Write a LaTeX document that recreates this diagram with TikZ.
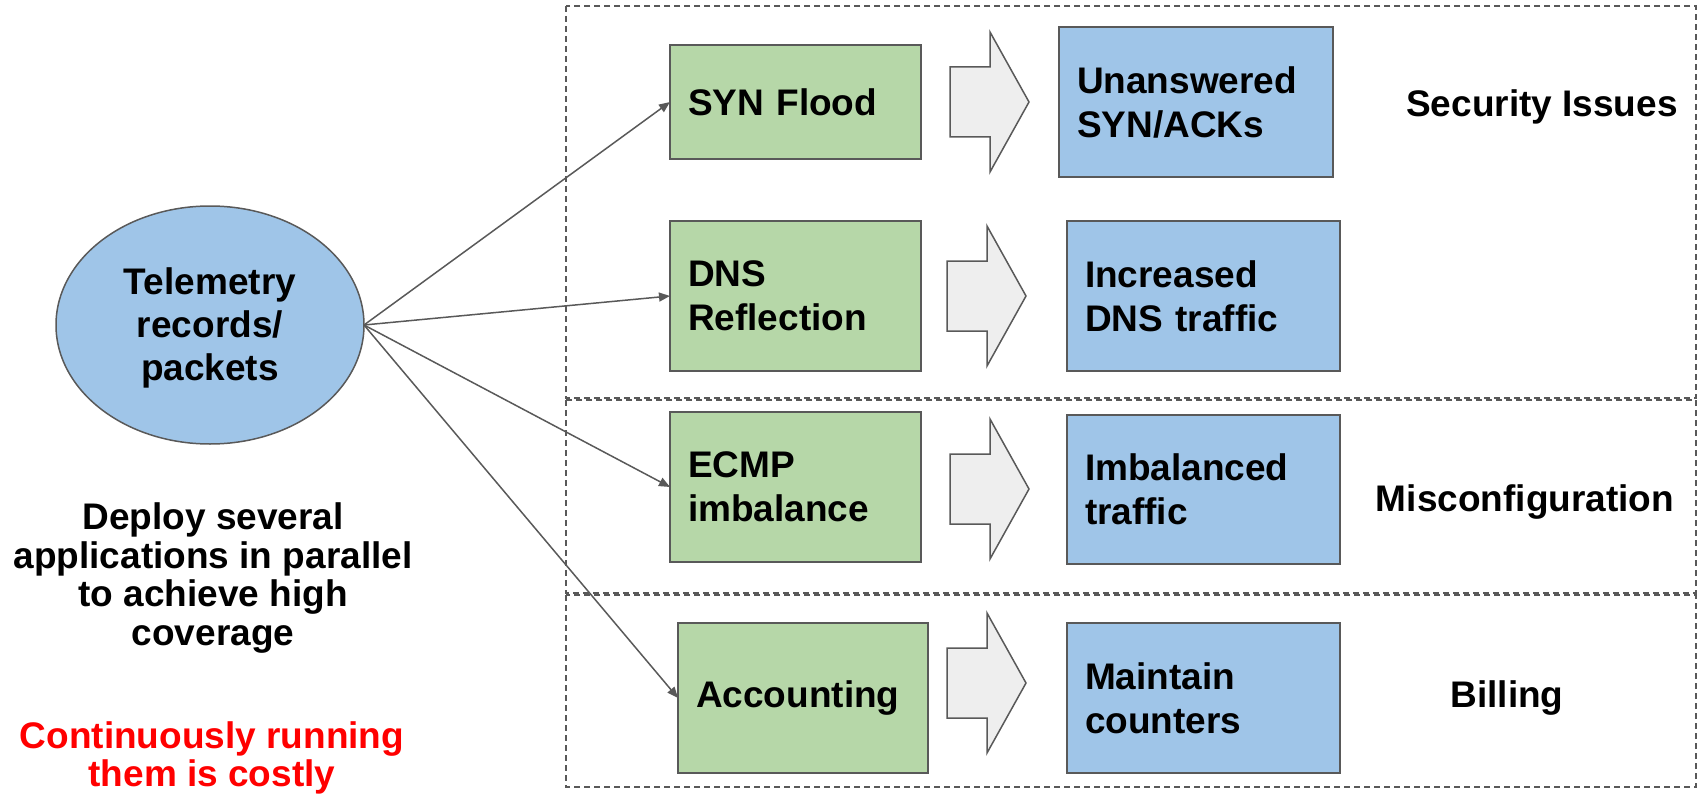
\documentclass[tikz,border=0pt]{standalone}
\usepackage{fontspec}
\setmainfont{Liberation Sans}
\usetikzlibrary{shapes.geometric,arrows.meta}

\definecolor{linegray}{HTML}{595959}
\definecolor{appgreen}{HTML}{B6D7A8}
\definecolor{effblue}{HTML}{9FC5E8}
\definecolor{arrowfill}{HTML}{EEEEEE}
\definecolor{alertred}{HTML}{FF0000}

\tikzset{
  boxfont/.style={font=\fontsize{18.5}{22}\selectfont\bfseries},
  appbox/.style={boxfont, draw=linegray, line width=1pt, fill=appgreen,
    inner xsep=9pt, inner ysep=0pt, align=left, outer sep=0pt},
  effbox/.style={boxfont, draw=linegray, line width=1pt, fill=effblue,
    inner xsep=9pt, inner ysep=0pt, align=left, outer sep=0pt},
  region/.style={draw=linegray, line width=0.75pt, dash pattern=on 3pt off 2pt},
  feed/.style={draw=linegray, line width=0.75pt,
    -{Triangle[length=5.5pt,width=4.5pt]}},
  blockarrow/.style={draw=linegray, line width=0.75pt, fill=arrowfill,
    line join=miter},
  category/.style={font=\fontsize{18.5}{22}\selectfont\bfseries},
  note/.style={font=\fontsize{18.5}{19.3}\selectfont\bfseries, align=center},
  fatarrow/.pic={
    \draw[blockarrow] (0,-35) -- (40,-35) -- (40,-70) -- (79,0)
      -- (40,70) -- (40,35) -- (0,35) -- cycle;
  }
}

\begin{document}
\begin{tikzpicture}[x=0.5pt,y=-0.5pt]
\useasboundingbox (0,0) rectangle (1698,797);

% dashed category regions
\draw[region] (566,6) rectangle (1696,398);
\draw[region] (566,400) rectangle (1696,593);
\draw[region] (566,595) rectangle (1696,787);

% source of the telemetry
\node[ellipse, draw=linegray, line width=0.75pt, fill=effblue,
  minimum width=154pt, minimum height=119pt, inner sep=0pt, outer sep=0pt]
  (tel) at (210,325) {};
\node[align=center, font=\fontsize{18.5}{21.5}\selectfont\bfseries]
  (telname) at (210,328) {Telemetry\\records/\\packets};

% applications
\node[appbox, text width=107.5pt, minimum width=125.5pt, minimum height=57pt]
  (syn) at (795.5,102) {SYN Flood};
\node[appbox, text width=107.5pt, minimum width=125.5pt, minimum height=75pt]
  (dns) at (795.5,296) {DNS\\Reflection};
\node[appbox, text width=107.5pt, minimum width=125.5pt, minimum height=75pt]
  (ecmp) at (795.5,487) {ECMP\\imbalance};
\node[appbox, text width=107pt, minimum width=125pt, minimum height=75pt]
  (acct) at (803,698) {Accounting};

% observed effects
\node[effbox, text width=119pt, minimum width=137pt, minimum height=75pt]
  (unans) at (1196,102) {Unanswered\\SYN/ACKs};
\node[effbox, text width=118.5pt, minimum width=136.5pt, minimum height=75pt]
  (incr) at (1203.5,296) {Increased\\DNS traffic};
\node[effbox, text width=118.5pt, minimum width=136.5pt, minimum height=74.5pt]
  (imbal) at (1203.5,489.5) {Imbalanced\\traffic};
\node[effbox, text width=118.5pt, minimum width=136.5pt, minimum height=75pt]
  (maint) at (1203.5,698) {Maintain\\counters};

% block arrows between application and effect
\pic at (950,102) {fatarrow};
\pic at (947,296) {fatarrow};
\pic at (950,489) {fatarrow};
\pic at (947,683) {fatarrow};

% category labels
\node[category] (sec) at (1542,107) {Security Issues};
\node[category] (mis) at (1525,502) {Misconfiguration};
\node[category] (bill) at (1507,698) {Billing};

% feeds from the telemetry source
\draw[feed] (tel.east) -- (syn.west);
\draw[feed] (tel.east) -- (dns.west);
\draw[feed] (tel.east) -- (ecmp.west);
\draw[feed] (tel.east) -- (acct.west);

% notes
\node[note] (deploy) at (213,578)
  {Deploy several\\applications in parallel\\to achieve high\\coverage};
\node[note, text=alertred] (cost) at (212,758)
  {Continuously running\\them is costly};
\end{tikzpicture}
\end{document}
